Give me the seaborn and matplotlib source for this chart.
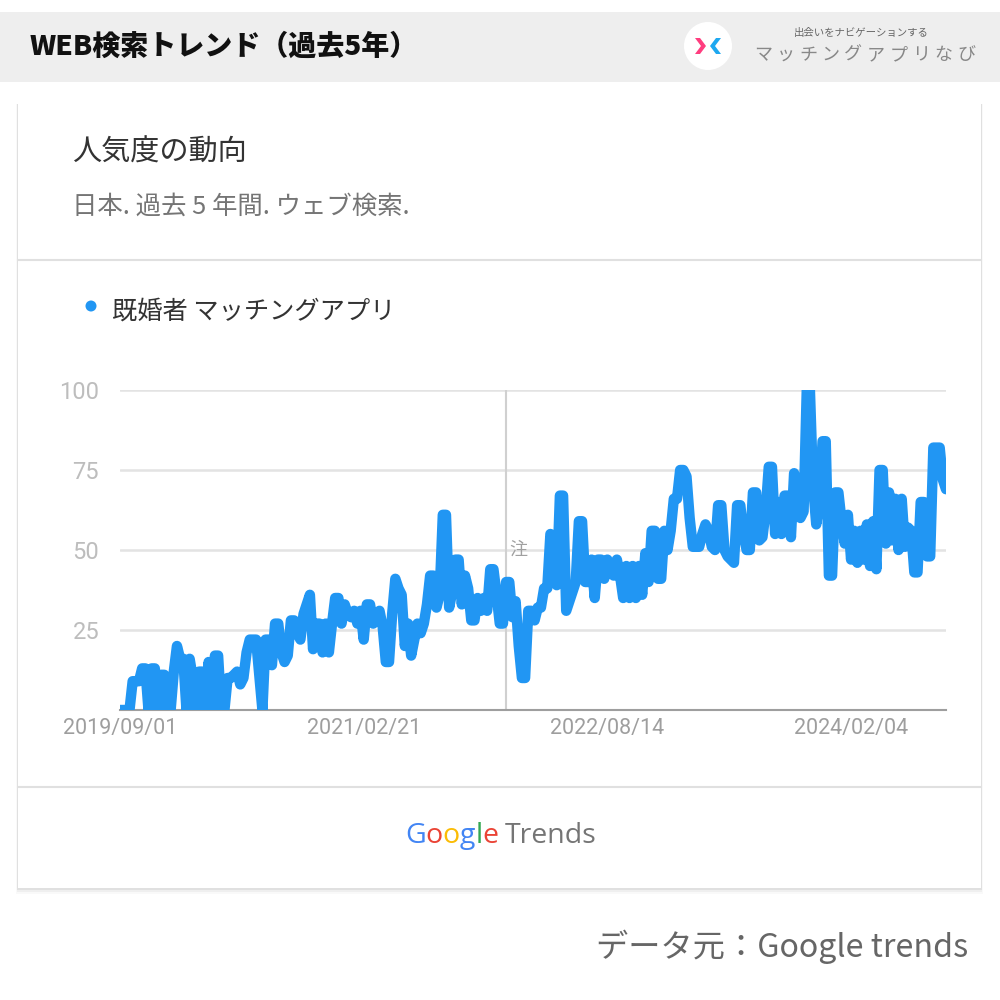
import numpy as np
import pandas as pd
import matplotlib
matplotlib.use("Agg")
import matplotlib.pyplot as plt
from matplotlib.patches import Rectangle, Circle, Polygon
from matplotlib.lines import Line2D
import seaborn as sns

# ---------------- data ----------------
start_date = "2019-09-01"
interest = [
    0, 0, 0, 0, 9, 9, 9, 13, 13, 0,
    13, 13, 0, 11, 11, 0, 0, 12, 20, 16,
    16, 0, 16, 10, 0, 12, 12, 0, 15, 0,
    17, 17, 0, 0, 10, 10, 11, 12, 8, 10,
    18, 22, 22, 22, 11, 0, 22, 22, 14, 27,
    27, 18, 15, 17, 28, 28, 24, 22, 30, 33,
    36, 19, 27, 27, 18, 27, 18, 27, 35, 35,
    27, 33, 30, 29, 31, 27, 31, 22, 33, 33,
    27, 28, 31, 26, 15, 15, 30, 41, 38, 36,
    20, 27, 17, 22, 27, 24, 27, 33, 42, 42,
    32, 36, 61, 61, 32, 37, 47, 47, 33, 42,
    38, 28, 28, 35, 31, 35, 31, 44, 44, 36,
    27, 27, 40, 40, 29, 34, 20, 10, 10, 31,
    31, 28, 32, 32, 38, 38, 55, 53, 39, 67,
    67, 31, 34, 37, 40, 59, 59, 40, 40, 47,
    35, 47, 47, 41, 47, 43, 42, 47, 42, 35,
    45, 35, 45, 35, 45, 36, 49, 40, 56, 56,
    41, 41, 56, 50, 56, 66, 66, 75, 75, 73,
    60, 51, 51, 51, 55, 58, 56, 51, 50, 64,
    64, 50, 48, 47, 46, 64, 64, 55, 50, 50,
    68, 68, 53, 54, 62, 76, 76, 55, 65, 55,
    67, 67, 54, 74, 70, 60, 62, 100, 100, 70,
    58, 65, 84, 84, 42, 42, 68, 68, 59, 52,
    61, 47, 56, 46, 56, 47, 58, 45, 59, 44,
    75, 75, 52, 68, 53, 66, 50, 66, 51, 57,
    56, 43, 43, 65, 65, 48, 48, 82, 82, 82,
    72, 69,
]
tick_dates = ["2019-09-01", "2021-02-21", "2022-08-14", "2024-02-04"]
tick_labels = ["2019/09/01", "2021/02/21", "2022/08/14", "2024/02/04"]
y_ticks = [25, 50, 75, 100]
note_date = "2022-01-01"
series_name = "既婚者 マッチングアプリ"
header_title = "WEB検索トレンド（過去5年）"
card_title = "人気度の動向"
card_subtitle = "日本. 過去 5 年間. ウェブ検索."
brand_tag = "出会いをナビゲーションする"
brand_name = "マッチングアプリなび"
source_text = "データ元：Google trends"
google_letters = ["G", "o", "o", "g", "l", "e"]
google_colors = ["#4285F4", "#EA4335", "#FBBC05", "#4285F4", "#34A853", "#EA4335"]

# ---------------- style ----------------
sns.set_theme(style="white")
plt.rcParams['font.family'] = ['Noto Sans CJK JP', 'DejaVu Sans']

fig = plt.figure(figsize=(10, 10), dpi=100)
fig.patch.set_facecolor("white")
W = H = 1000.0


def fx(x):
    return x / W


def fy(y):
    return 1 - y / H


def rect(x0, y0, x1, y1, **kw):
    r = Rectangle((fx(x0), fy(y1)), (x1 - x0) / W, (y1 - y0) / H,
                  transform=fig.transFigure, **kw)
    fig.add_artist(r)
    return r


# header band
rect(0, 12, 1000, 82, facecolor="#eeeeee", edgecolor="none", zorder=-10)
fig.text(fx(30), fy(47), header_title, fontsize=20.2, fontweight="black",
         color="#111111", va="center", ha="left")

# brand logo
fig.add_artist(Circle((fx(708), fy(46)), 24 / W, transform=fig.transFigure,
                      facecolor="white", edgecolor="none", zorder=-5))
pink = [(695, 38), (700, 38), (706, 46), (700, 54), (695, 54), (701, 46)]
blue = [(721, 38), (716, 38), (710, 46), (716, 54), (721, 54), (715, 46)]
fig.add_artist(Polygon([(fx(a), fy(b)) for a, b in pink], closed=True,
                       transform=fig.transFigure, facecolor="#FF3D7F", edgecolor="none"))
fig.add_artist(Polygon([(fx(a), fy(b)) for a, b in blue], closed=True,
                       transform=fig.transFigure, facecolor="#1EA8F0", edgecolor="none"))
fig.text(fx(861), fy(33), brand_tag, fontsize=7.5, color="#666666",
         ha="center", va="center")
for k, ch in enumerate(brand_name):
    fig.text(fx(763 + k * 22.6), fy(55), ch, fontsize=13, color="#888888",
             ha="center", va="center")

# card with shadow
for off, a in [(6, 0.025), (4, 0.04), (2, 0.06)]:
    rect(18 - off / 3, 104, 981 + off / 3, 888 + off, facecolor="black",
         edgecolor="none", alpha=a, zorder=-9)
rect(18, 104, 981, 888, facecolor="white", edgecolor="none", zorder=-8)
for yy in (260, 787):
    fig.add_artist(Line2D([fx(18), fx(981)], [fy(yy), fy(yy)],
                          transform=fig.transFigure, color="#e0e0e0", lw=1.5, zorder=-7))

fig.text(fx(72), fy(153), card_title, fontsize=21, color="#333333", va="center")
fig.text(fx(72), fy(207), card_subtitle, fontsize=18.3, color="#757575", va="center")

# legend
fig.add_artist(Circle((fx(91), fy(306)), 5.5 / W, transform=fig.transFigure,
                      facecolor="#2196F3", edgecolor="none"))
fig.text(fx(112), fy(312), series_name, fontsize=18.2, color="#333333", va="center")

# ---------------- chart ----------------
df = pd.DataFrame({
    "date": pd.date_range(start_date, periods=len(interest), freq="7D"),
    "value": interest,
})
ax = fig.add_axes([fx(120), fy(710), (946 - 120) / W, (710 - 390) / H])
ax.set_facecolor("none")
ax.set_zorder(2)
ax.axvline(pd.Timestamp(note_date), color="#d0d0d0", lw=1.5, zorder=1)
sns.lineplot(data=df, x="date", y="value", ax=ax, color="#2196F3",
             linewidth=7.5, zorder=3)
ax.set_xlim(df["date"].iloc[0], df["date"].iloc[-1])
ax.set_ylim(0, 100)
ax.set_axisbelow(True)
ax.set_yticks(y_ticks)
ax.set_yticklabels([str(v) for v in y_ticks], color="#bdbdbd", fontsize=17,
                   family=["Roboto", "DejaVu Sans"])
ax.yaxis.grid(True, color="#e3e3e3", lw=1.8)
ax.xaxis.grid(False)
ax.set_xticks(pd.to_datetime(tick_dates))
ax.set_xticklabels(tick_labels, color="#9e9e9e", fontsize=15.5,
                   family=["Roboto", "DejaVu Sans"])
ax.tick_params(axis="y", length=0, pad=15)
ax.tick_params(axis="x", length=0, pad=6)
ax.set_xlabel("")
ax.set_ylabel("")
for s in ("top", "right", "left"):
    ax.spines[s].set_visible(False)
ax.spines["bottom"].set_color("#9e9e9e")
ax.spines["bottom"].set_linewidth(1.5)
ax.annotate("注", xy=(pd.Timestamp(note_date), 50), xytext=(4, 0),
            textcoords="offset pixels", ha="left", va="center",
            color="#a0a0a0", fontsize=13, zorder=2)

# ---------------- Google Trends logo ----------------
fig.canvas.draw()
renderer = fig.canvas.get_renderer()
cursor = 405.0
for ch, col in zip(google_letters, google_colors):
    t = fig.text(fx(cursor), fy(836), ch, fontsize=20.5, color=col, ha="left",
                 va="center", family=["Open Sans", "DejaVu Sans"])
    cursor += t.get_window_extent(renderer).width
fig.text(fx(cursor + 6), fy(836), "Trends", fontsize=20.5, color="#757575",
         ha="left", va="center", family=["Open Sans", "DejaVu Sans"])

# footer
fig.text(fx(968), fy(947), source_text, fontsize=23.2, color="#666666",
         ha="right", va="center")

fig.savefig("out.png", dpi=100)
